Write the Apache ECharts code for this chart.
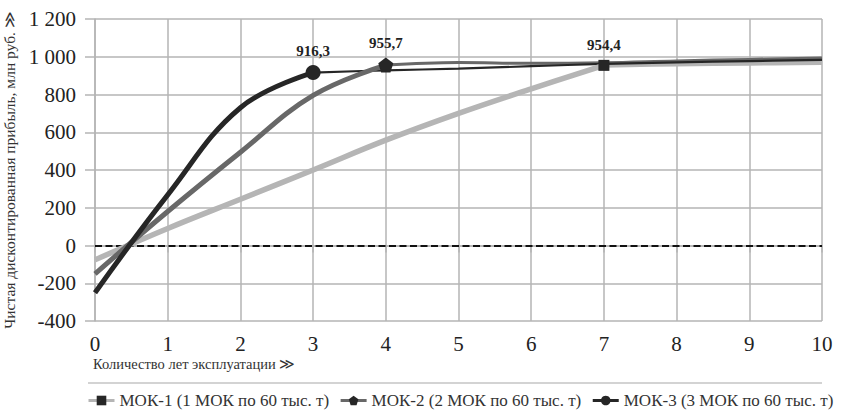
<!DOCTYPE html>
<html>
<head>
<meta charset="utf-8">
<script src="https://cdn.jsdelivr.net/npm/echarts@6/dist/echarts.min.js"></script>
<style>html,body{margin:0;padding:0;background:#fff}#c{width:842px;height:418px}</style>
</head>
<body>
<div id="c"></div>
<script>
const years = [0, 1, 2, 3, 4, 5, 6, 7, 8, 9, 10];
const mok1 = [-76, 90, 245, 400, 558, 700, 830, 954.4, 962, 966, 970];
const mok2 = [-150, 180, 494, 795, 955.7, 970, 965, 968, 978, 986, 993];
const mok3 = [-250, 268, 730, 916.3, 928, 937, 950, 962, 970, 977, 983];
const names = ['МОК-1 (1 МОК по 60 тыс. т)', 'МОК-2 (2 МОК по 60 тыс. т)', 'МОК-3 (3 МОК по 60 тыс. т)'];
const yTicks = [-400, -200, 0, 200, 400, 600, 800, 1000, 1200];
const xTicks = years;

const FONT = '"Liberation Serif", "Times New Roman", serif';
const pentagon = 'path://M0,-1 L0.951,-0.309 L0.588,0.809 L-0.588,0.809 L-0.951,-0.309 Z';
const defs = [
  {vals: mok1, k: 7, color: '#b5b5b5', w: 5.5, tailW: 5, symbol: 'rect', size: 11},
  {vals: mok2, k: 4, color: '#686868', w: 5, tailW: 3, symbol: pentagon, size: 15},
  {vals: mok3, k: 3, color: '#262626', w: 5, tailW: 2.2, symbol: 'circle', size: 15}
];
const fmt = v => String(v).replace('.', ',');

const series = [];
defs.forEach((d, si) => {
  const head = [];
  const tail = [];
  years.forEach((x, i) => {
    if (i <= d.k) {
      if (i === d.k) {
        head.push({value: [x, d.vals[i]], symbolSize: d.size,
          label: {show: true, position: 'top', distance: 7, formatter: p => fmt(p.value[1]),
            fontFamily: FONT, fontWeight: 'bold', fontSize: 15, color: '#222'}});
      } else {
        head.push({value: [x, d.vals[i]]});
      }
    }
    if (i >= d.k) tail.push([x, d.vals[i]]);
  });
  series.push({
    name: names[si] + ' ', type: 'line', data: tail, smooth: 0.4, symbol: 'none',
    lineStyle: {color: d.color, width: d.tailW}, z: 2 + si, silent: true
  });
  series.push({
    name: names[si], type: 'line', data: head, smooth: 0.4, symbol: d.symbol, symbolSize: 0,
    showAllSymbol: true,
    lineStyle: {color: d.color, width: d.w},
    itemStyle: {color: '#262626', opacity: 1},
    z: 5 + si,
    markLine: si === 0 ? {
      silent: true, symbol: 'none', label: {show: false},
      lineStyle: {color: '#111', type: [7, 3.5], width: 2.2},
      data: [{yAxis: 0}]
    } : undefined
  });
});

const chart = echarts.init(document.getElementById('c'), null, {renderer: 'svg'});
chart.setOption({
  animation: false,
  backgroundColor: '#fff',
  textStyle: {fontFamily: FONT},
  grid: {left: 95, right: 20, top: 19, bottom: 97, containLabel: false, outerBoundsMode: 'none'},
  title: {
    text: 'Количество лет эксплуатации ≫', left: 88, top: 351,
    textStyle: {fontFamily: FONT, fontSize: 14.5, fontWeight: 'normal', color: '#333'}
  },
  legend: {
    data: names, left: 82, top: 387, itemWidth: 26, itemHeight: 12, itemGap: 10,
    lineStyle: {width: 3},
    textStyle: {fontFamily: FONT, fontSize: 17, color: '#333'}
  },
  graphic: [{
    type: 'line', shape: {x1: 88, y1: 383, x2: 822, y2: 383},
    style: {stroke: '#c4c4c4', lineWidth: 1.5}, silent: true
  }],
  xAxis: {
    type: 'value', min: 0, max: 10, interval: 1,
    axisLine: {show: true, lineStyle: {color: '#b4b4b4', width: 1.5}},
    axisTick: {show: true, length: 7, lineStyle: {color: '#b4b4b4', width: 1.5}},
    splitLine: {show: true, lineStyle: {color: '#b4b4b4', width: 1.5}},
    axisLabel: {fontFamily: FONT, fontSize: 21, color: '#222', margin: 12,
      customValues: xTicks}
  },
  yAxis: {
    type: 'value', min: -400, max: 1200, interval: 200,
    name: 'Чистая дисконтированная прибыль, млн руб. ≫',
    nameLocation: 'middle', nameGap: 70, nameRotate: 90,
    nameTextStyle: {fontFamily: FONT, fontSize: 15.5, color: '#333'},
    axisLine: {show: true, lineStyle: {color: '#b4b4b4', width: 1.5}},
    axisTick: {show: true, length: 10, lineStyle: {color: '#b4b4b4', width: 1.5}},
    splitLine: {show: true, lineStyle: {color: '#b4b4b4', width: 1.5}},
    axisLabel: {fontFamily: FONT, fontSize: 21, color: '#222', margin: 19,
      formatter: v => yTicks.includes(v) ? String(v).replace(/\B(?=(\d{3})+(?!\d))/g, ' ') : ''}
  },
  series: series
});
</script>
</body>
</html>
